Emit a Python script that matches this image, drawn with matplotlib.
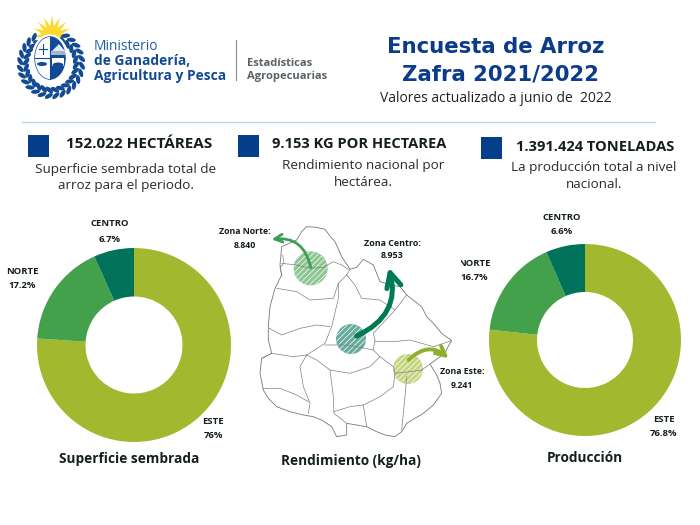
#!/usr/bin/env python3

import matplotlib
matplotlib.use("Agg")
import matplotlib.pyplot as plt
from matplotlib.patches import Circle, Ellipse, FancyArrowPatch, Polygon, Rectangle
import numpy as np

plt.rcParams['font.family'] = ['Open Sans', 'DejaVu Sans']
plt.rcParams['hatch.linewidth'] = 0.5

# datos
zonas = ["ESTE", "NORTE", "CENTRO"]
superficie = [76, 17.2, 6.7]
produccion = [76.8, 16.7, 6.6]
colores = ["#a2b92f", "#43a04b", "#00735a"]

azul = "#0b3c8c"
azul_cuadro = "#053f8c"
azul_logo = "#124a94"
negro = "#141f1b"

# contorno del mapa y limites internos (pixeles del recorte, x3)
contorno = [(290,50),(320,52),(345,58),(360,78),(375,95),(395,140),(420,178),(440,172),(460,148),(490,165),
            (500,190),(510,215),(545,225),(570,230),(590,255),(635,290),(650,320),(670,340),(695,370),(725,392),
            (715,408),(705,430),(680,448),(660,462),(680,495),(690,520),(695,550),(670,585),(640,610),(590,640),
            (575,665),(555,680),(525,675),(500,665),(470,650),(440,645),(410,640),(410,675),(380,680),(365,650),
            (335,630),(310,620),(280,615),(240,605),(200,590),(175,565),(160,540),(150,490),(155,445),(185,430),
            (175,390),(175,350),(180,290),(195,235),(215,195),(210,165),(215,110),(260,90),(275,65),(290,50)]
limites = [
    [(215,160),(260,165),(300,175),(340,172),(370,155),(395,165),(415,178)],
    [(200,235),(260,245),(300,270),(370,265),(385,220),(410,195),(420,178)],
    [(410,195),(435,225),(455,265),(510,270),(555,300),(590,255)],
    [(385,220),(385,265),(365,350),(345,400),(290,435)],
    [(178,355),(215,375),(270,355),(320,345),(360,350)],
    [(155,445),(185,430),(250,440),(290,435),(270,470),(280,530),(300,580),(295,610)],
    [(345,405),(400,405),(440,410),(490,420),(510,440),(480,470),(420,490),(360,480),(320,450),(290,435)],
    [(490,420),(495,390),(490,370),(555,300)],
    [(495,395),(550,395),(600,390),(670,410),(725,392)],
    [(510,440),(550,470),(555,490),(600,485),(635,480),(660,462)],
    [(360,480),(370,560),(372,610),(410,640)],
    [(372,605),(420,590),(460,585),(470,650)],
    [(460,585),(510,560),(550,530),(555,490)],
    [(590,500),(585,560),(575,660)],
    [(160,535),(210,535),(260,555),(295,575)],
    [(218,135),(222,160),(210,172),(216,198)],
]
zonas_mapa = [(302,175,51,"#43a04b"),(423,387,45,"#00735a"),(594,477,45,"#a2b92f")]

fig = plt.figure(figsize=(7, 5.25), dpi=100, facecolor="white")
ax = fig.add_axes([0, 0, 1, 1])
ax.set_xlim(0, 700)
ax.set_ylim(525, 0)
ax.axis("off")


def txt(x, y, s, size, color=negro, weight="normal", ha="center", **kw):
    ax.text(x, y, s, fontsize=size, color=color, fontweight=weight, ha=ha, va="center", **kw)


def dona(cx, cy, r, valores):
    a = fig.add_axes([(cx - r) / 700, 1 - (cy + r) / 525, 2 * r / 700, 2 * r / 525])
    a.pie(valores, colors=colores, startangle=90, counterclock=False, radius=1,
          wedgeprops={"width": 0.5, "linewidth": 0})
    a.set_xlim(-1, 1)
    a.set_ylim(-1, 1)


# escudo
sol_a = np.linspace(0, 2 * np.pi, 33)[:-1]
sol_r = np.where(np.arange(32) % 2 == 0, 20, 10)
ax.add_patch(Polygon(np.c_[52 + sol_r * np.cos(sol_a), 36 + sol_r * np.sin(sol_a)], color="#fbd92f", lw=0))
for t in np.radians(np.arange(-62, 243, 13)):
    for d, ang in [(-3, 35), (3, -35)]:
        ax.add_patch(Ellipse((51 + (28 + d) * np.cos(t), 64 + (29 + d) * np.sin(t)), 9, 4.2,
                             angle=np.degrees(t) + 90 + ang, color=azul_logo, lw=0))
ax.add_patch(Ellipse((50, 58), 33, 44, fc="white", ec="white", lw=2.5, zorder=3))
ax.add_patch(Ellipse((50, 58), 30, 42, fc="white", ec=azul_logo, lw=1, zorder=4))
escudo = Ellipse((50, 58), 30, 42, transform=ax.transData)
cuartos = [Rectangle((35, 37), 15, 21, color="#ffffff", lw=0, zorder=4),
           Rectangle((50, 37), 15, 21, color=azul_logo, lw=0, zorder=4),
           Rectangle((35, 58), 15, 21, color="#ffffff", lw=0, zorder=4),
           Rectangle((50, 58), 15, 21, color=azul_logo, lw=0, zorder=4)]
for c in cuartos:
    ax.add_patch(c)
    c.set_clip_path(escudo)
ax.plot([35, 65], [58, 58], color=azul_logo, lw=0.8, zorder=5)
ax.plot([50, 50], [37, 79], color=azul_logo, lw=0.8, zorder=5)
ax.plot([39, 47], [49, 49], color=azul_logo, lw=0.8, zorder=5)
ax.plot([43, 43], [44, 54], color=azul_logo, lw=0.8, zorder=5)
ax.add_patch(Polygon([(52, 51), (59, 44), (65, 51)], color="#dfe8f3", lw=0, zorder=5))
ax.add_patch(Rectangle((51, 51), 14, 4, color="#9fb6d6", lw=0, zorder=5))
ax.add_patch(Ellipse((42, 64), 10, 4, color=azul_logo, lw=0, zorder=5))
ax.add_patch(Rectangle((52, 58), 12, 8, color="white", lw=0, zorder=5))
ax.add_patch(Ellipse((58, 65), 11, 5, color=azul_logo, lw=0, zorder=6))

# cabecera
txt(94, 46, "Ministerio", 9.9, color="#1a5fa6", ha="left")
txt(94, 61, "de Ganadería,", 9.9, color=azul_logo, weight="bold", ha="left")
txt(94, 76, "Agricultura y Pesca", 9.9, color=azul_logo, weight="bold", ha="left")
ax.plot([236, 236], [40, 80], color="#8a8a8a", lw=0.8)
txt(247, 63, "Estadísticas", 8, color="#5a6266", weight="bold", ha="left")
txt(247, 76, "Agropecuarias", 8, color="#5a6266", weight="bold", ha="left")

txt(496, 47, "Encuesta de Arroz", 15.3, color=azul, weight="bold", family="DejaVu Sans")
txt(501, 75, "Zafra 2021/2022", 15.3, color=azul, weight="bold", family="DejaVu Sans")
txt(496, 99, "Valores actualizado a junio de  2022", 10, color="#222222")
ax.plot([22, 655], [122, 122], color="#b5d6f2", lw=1)

# recuadros
for x, y, h in [(28, 135, 22), (238, 135, 22), (481, 137, 22)]:
    ax.add_patch(Rectangle((x, y), 21, h, color=azul_cuadro, lw=0))
txt(139, 144, "152.022 HECTÁREAS", 11, weight="bold")
txt(359, 144, "9.153 KG POR HECTAREA", 10.5, weight="bold")
txt(595, 147, "1.391.424 TONELADAS", 10.5, weight="bold")
txt(126, 169, "Superficie sembrada total de", 9.7, color="#2b2b2b")
txt(126, 186, "arroz para el periodo.", 9.7, color="#2b2b2b")
txt(363, 165, "Rendimiento nacional por", 9.7, color="#2b2b2b")
txt(363, 182, "hectárea.", 9.7, color="#2b2b2b")
txt(594, 167, "La producción total a nivel", 9.7, color="#2b2b2b")
txt(594, 184, "nacional.", 9.7, color="#2b2b2b")

# donas
dona(134, 345, 97, superficie)
dona(585, 340, 96, produccion)

for x, y1, y2, s1, s2 in [(110, 224, 239, "CENTRO", "6.7%"), (22, 271, 285, "NORTE", "17.2%"),
                          (213, 421, 436, "ESTE", "76%"), (562, 218, 232, "CENTRO", "6.6%"),
                          (474, 263, 278, "NORTE", "16.7%"), (664, 419, 434, "ESTE", "76.8%")]:
    txt(x, y1, s1, 6.8, weight="bold")
    txt(x, y2, s2, 6.8, weight="bold")
# en el original el NORTE derecho queda cortado
ax.add_patch(Rectangle((450, 255), 11, 30, color="white", lw=0, zorder=3))

txt(129, 459, "Superficie sembrada", 9.8, weight="bold")
txt(351, 461, "Rendimiento (kg/ha)", 9.8, weight="bold")
txt(585, 458, "Producción", 9.8, weight="bold")


# mapa
def a_px(puntos):
    p = np.array(puntos, dtype=float)
    return np.c_[210 + p[:, 0] / 3, 210 + p[:, 1] / 3]


for x, y, r, c in zonas_mapa:
    px = a_px([(x, y)])[0]
    ax.add_patch(Circle(px, r / 3, fc=c, alpha=0.6, lw=0))
    ax.add_patch(Circle(px, r / 3, fc="none", ec="white", hatch="//////", lw=0))

ax.add_patch(Polygon(a_px(contorno), closed=True, fc="none", ec="#777777", lw=0.6, joinstyle="round"))
for linea in limites:
    p = a_px(linea)
    ax.plot(p[:, 0], p[:, 1], color="#808080", lw=0.5)

flechas = [((302, 172), (185, 88), 0.45, "#3f9e55", 2, 14),
           ((440, 378), (536, 172), 0.42, "#007a55", 3.6, 26),
           ((596, 450), (716, 445), -0.45, "#8fb02b", 2.8, 17)]
for ini, fin, rad, c, lw, ms in flechas:
    a, b = a_px([ini, fin])
    ax.add_patch(FancyArrowPatch(a, b, connectionstyle=f"arc3,rad={rad}", arrowstyle="->", shrinkA=0, shrinkB=0,
                                 mutation_scale=ms, color=c, lw=lw, zorder=4))

txt(245, 232, "Zona Norte:", 6.3, weight="bold")
txt(245, 245, "8.840", 6.3, weight="bold")
txt(392, 243, "Zona Centro:", 6.4, weight="bold")
txt(392, 255, "8.953", 6.4, weight="bold")
txt(462, 371, "Zona Este:", 6.3, weight="bold")
txt(462, 385, "9.241", 6.3, weight="bold")

fig.savefig("out.png", dpi=100, facecolor="white")
